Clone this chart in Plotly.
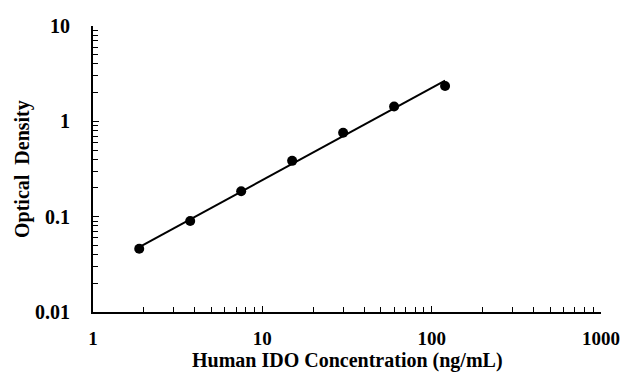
import numpy as np
import plotly.graph_objects as go

concentration = [1.875, 3.75, 7.5, 15, 30, 60, 120]
optical_density = [0.046, 0.090, 0.185, 0.385, 0.76, 1.43, 2.35]

x_tickvals = [1, 10, 100, 1000]
x_ticktext = ["1", "10", "100", "1000"]
y_tickvals = [0.01, 0.1, 1, 10]
y_ticktext = ["0.01", "0.1", "1", "10"]
minor_multipliers = [2, 3, 4, 5, 6, 7, 8, 9]
x_title = "Human IDO Concentration (ng/mL)"
y_title = "Optical  Density"

x_minor = [d * m for d in [1, 10, 100] for m in minor_multipliers]
y_minor = [d * m for d in [0.01, 0.1, 1] for m in minor_multipliers]

# power-law trend line fitted to the data (straight in log-log space)
lx = np.log10(concentration)
ly = np.log10(optical_density)
slope, intercept = np.polyfit(lx, ly, 1)
fit_x = np.array([concentration[0], concentration[-1]])
fit_y = 10 ** (intercept + slope * np.log10(fit_x))

FAM = "Liberation Serif, Times New Roman, serif"
font = dict(family=FAM, size=20, color="black")

fig = go.Figure()
fig.add_trace(go.Scatter(x=fit_x, y=fit_y, mode="lines",
                         line=dict(color="black", width=2), showlegend=False))
fig.add_trace(go.Scatter(x=concentration, y=optical_density, mode="markers",
                         marker=dict(color="black", size=10), showlegend=False))

axis_common = dict(
    type="log", showgrid=False, zeroline=False, automargin=False,
    showline=True, linecolor="black", linewidth=2,
    ticks="inside", ticklen=6, tickcolor="black", tickwidth=1,
)

fig.update_xaxes(range=[0, 3], tickvals=x_tickvals, ticktext=x_ticktext,
                 tickfont=dict(family=FAM, size=19, color="black", weight="bold"),
                 minor=dict(tickvals=x_minor, ticks="inside", ticklen=5,
                            tickcolor="black", tickwidth=1, showgrid=False),
                 ticklabelstandoff=8,
                 **axis_common)
fig.update_yaxes(range=[-2, 1], tickvals=y_tickvals, ticktext=y_ticktext,
                 tickfont=dict(family=FAM, size=20, color="black", weight="bold"),
                 minor=dict(tickvals=y_minor, ticks="inside", ticklen=5,
                            tickcolor="black", tickwidth=1, showgrid=False),
                 ticklabelstandoff=17,
                 **axis_common)

fig.add_annotation(text="<b>" + x_title + "</b>", xref="paper", yref="paper",
                   x=0.5, y=0, xanchor="center", yanchor="middle", yshift=-48,
                   showarrow=False, font=font)
fig.add_annotation(text="<b>" + y_title + "</b>", xref="paper", yref="paper",
                   x=0, y=0.5, xanchor="center", yanchor="middle", xshift=-71,
                   textangle=-90, showarrow=False, font=font)

fig.update_layout(width=625, height=374,
                  margin=dict(l=93, r=24, t=26, b=62, autoexpand=False),
                  plot_bgcolor="white", paper_bgcolor="white",
                  font=font, hovermode=False)

fig.write_html("out.html", config={"displayModeBar": False, "staticPlot": True},
               post_script="document.body.style.margin='0';document.body.style.overflow='hidden';")
